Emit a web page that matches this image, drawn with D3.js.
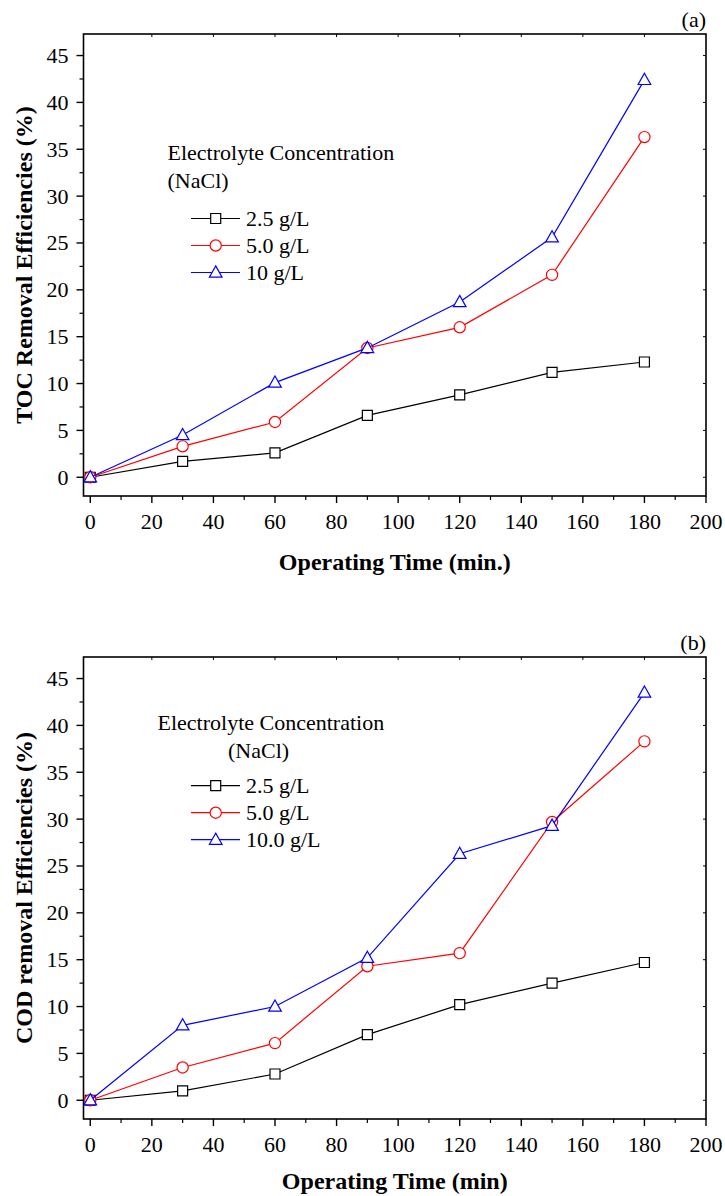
<!DOCTYPE html>
<html>
<head>
<meta charset="utf-8">
<script src="https://cdn.jsdelivr.net/npm/d3@7"></script>
<style>
  html, body { margin: 0; padding: 0; background: #fff; }
  svg { display: block; }
  .tick-label { font: 22px "Liberation Serif", "Times New Roman", serif; fill: #000; }
  .axis-title { font: bold 24px "Liberation Serif", "Times New Roman", serif; fill: #000; }
  .legend-text { font: 22px "Liberation Serif", "Times New Roman", serif; fill: #000; }
</style>
</head>
<body>
<div id="chart"></div>
<script>
// operating time (min)
const times = [0, 30, 60, 90, 120, 150, 180];

// (a) TOC removal (%)
const tocLow = [0, 1.7, 2.6, 6.6, 8.8, 11.2, 12.3];
const tocMid = [0, 3.3, 5.9, 13.8, 16.0, 21.6, 36.3];
const tocHigh = [0, 4.5, 10.1, 13.8, 18.7, 25.6, 42.4];

// (b) COD removal (%)
const codLow = [0, 1.0, 2.8, 7.0, 10.2, 12.5, 14.7];
const codMid = [0, 3.5, 6.1, 14.3, 15.7, 29.7, 38.3];
const codHigh = [0, 8.0, 10.0, 15.2, 26.3, 29.3, 43.5];

const xTicks = [0, 20, 40, 60, 80, 100, 120, 140, 160, 180, 200];
const yTicks = [0, 5, 10, 15, 20, 25, 30, 35, 40, 45];

const seriesStyle = [
  { color: "#000000", shape: "square" },
  { color: "#ff0000", shape: "circle" },
  { color: "#0000ff", shape: "triangle" },
];

const W = 725, H = 1196;
const svg = d3.select("#chart").append("svg").attr("width", W).attr("height", H);

function markerPath(shape) {
  if (shape === "square") return d3.symbol(d3.symbolSquare, 100)();
  if (shape === "circle") return d3.symbol(d3.symbolCircle, Math.PI * 5.6 * 5.6)();
  // triangle, a bit wider than tall
  return "M0,-6.6L6.3,4.6L-6.3,4.6Z";
}

function drawPanel(cfg) {
  const left = 83.5, right = 706, top = cfg.top, bottom = cfg.top + 462;
  const x = d3.scaleLinear().domain([-2.2, 200]).range([left, right]);
  const y = d3.scaleLinear().domain([-2, 47.3]).range([bottom, top]);
  const g = svg.append("g");

  // frame
  g.append("rect")
    .attr("x", left).attr("y", top)
    .attr("width", right - left).attr("height", bottom - top)
    .attr("fill", "none").attr("stroke", "#000").attr("stroke-width", 1.6);

  // bottom axis: outward major + minor ticks
  const xMinor = d3.range(10, 200, 20);
  g.selectAll(".xmaj").data(xTicks).join("line")
    .attr("x1", d => x(d)).attr("x2", d => x(d))
    .attr("y1", bottom).attr("y2", bottom + 7)
    .attr("stroke", "#000").attr("stroke-width", 1.4);
  g.selectAll(".xmin").data(xMinor).join("line")
    .attr("x1", d => x(d)).attr("x2", d => x(d))
    .attr("y1", bottom).attr("y2", bottom + 4)
    .attr("stroke", "#000").attr("stroke-width", 1.2);
  // top axis: short inward ticks
  g.selectAll(".xtop").data(xTicks.slice(1, -1)).join("line")
    .attr("x1", d => x(d)).attr("x2", d => x(d))
    .attr("y1", top).attr("y2", top + 3)
    .attr("stroke", "#000").attr("stroke-width", 1);
  g.selectAll(".xlab").data(xTicks).join("text")
    .attr("class", "tick-label")
    .attr("x", d => x(d)).attr("y", bottom + 33)
    .attr("text-anchor", "middle")
    .text(d => d);

  // left axis
  const yMinor = d3.range(2.5, 47, 5);
  g.selectAll(".ymaj").data(yTicks).join("line")
    .attr("x1", left - 7).attr("x2", left)
    .attr("y1", d => y(d)).attr("y2", d => y(d))
    .attr("stroke", "#000").attr("stroke-width", 1.4);
  g.selectAll(".ymin").data(yMinor).join("line")
    .attr("x1", left - 4).attr("x2", left)
    .attr("y1", d => y(d)).attr("y2", d => y(d))
    .attr("stroke", "#000").attr("stroke-width", 1.2);
  // right axis: inward ticks
  g.selectAll(".yright").data(yTicks).join("line")
    .attr("x1", right - 3).attr("x2", right)
    .attr("y1", d => y(d)).attr("y2", d => y(d))
    .attr("stroke", "#000").attr("stroke-width", 1);
  g.selectAll(".ylab").data(yTicks).join("text")
    .attr("class", "tick-label")
    .attr("x", left - 15).attr("y", d => y(d) + 7.5)
    .attr("text-anchor", "end")
    .text(d => d);

  // titles
  g.append("text").attr("class", "axis-title")
    .attr("x", (left + right) / 2).attr("y", bottom + cfg.xTitleGap)
    .attr("text-anchor", "middle").text(cfg.xTitle);
  g.append("text").attr("class", "axis-title")
    .attr("transform", `translate(32,${(top + bottom) / 2}) rotate(-90)`)
    .attr("text-anchor", "middle").text(cfg.yTitle);
  g.append("text").attr("class", "legend-text")
    .attr("x", right).attr("y", top - 7)
    .attr("text-anchor", "end").text(cfg.tag);

  // series
  const line = d3.line().x(d => x(d[0])).y(d => y(d[1]));
  cfg.series.forEach((vals, i) => {
    const st = seriesStyle[i];
    const pts = times.map((t, j) => [t, vals[j]]);
    g.append("path").datum(pts)
      .attr("d", line)
      .attr("fill", "none").attr("stroke", st.color).attr("stroke-width", 1.2);
    g.selectAll(null).data(pts).join("path")
      .attr("d", markerPath(st.shape))
      .attr("transform", d => `translate(${x(d[0])},${y(d[1])})`)
      .attr("fill", "#fff").attr("stroke", st.color).attr("stroke-width", 1.2);
  });

  // legend
  const lg = g.append("g");
  lg.append("text").attr("class", "legend-text")
    .attr("x", cfg.legendX).attr("y", cfg.legendTitleY)
    .text("Electrolyte Concentration");
  lg.append("text").attr("class", "legend-text")
    .attr("x", cfg.nacl.x).attr("y", cfg.legendTitleY + 28)
    .text("(NaCl)");
  cfg.labels.forEach((lab, i) => {
    const st = seriesStyle[i];
    const cy = cfg.rowY + i * 27;
    lg.append("line")
      .attr("x1", 191).attr("x2", 240).attr("y1", cy).attr("y2", cy)
      .attr("stroke", st.color).attr("stroke-width", 1.2);
    lg.append("path").attr("d", markerPath(st.shape))
      .attr("transform", `translate(215.7,${cy})`)
      .attr("fill", "#fff").attr("stroke", st.color).attr("stroke-width", 1.2);
    lg.append("text").attr("class", "legend-text")
      .attr("x", 246).attr("y", cy + 7.5).text(lab);
  });
}

drawPanel({
  top: 34,
  tag: "(a)",
  xTitle: "Operating Time (min.)",
  xTitleGap: 74,
  yTitle: "TOC Removal Efficiencies (%)",
  series: [tocLow, tocMid, tocHigh],
  labels: ["2.5 g/L", "5.0 g/L", "10 g/L"],
  legendX: 167.5,
  legendTitleY: 159.5,
  nacl: { x: 167.5 },
  rowY: 218.5,
});

drawPanel({
  top: 657,
  tag: "(b)",
  xTitle: "Operating Time (min)",
  xTitleGap: 70,
  yTitle: "COD removal Efficiencies (%)",
  series: [codLow, codMid, codHigh],
  labels: ["2.5 g/L", "5.0 g/L", "10.0 g/L"],
  legendX: 157.5,
  legendTitleY: 729.5,
  nacl: { x: 228 },
  rowY: 785.7,
});
</script>
</body>
</html>
